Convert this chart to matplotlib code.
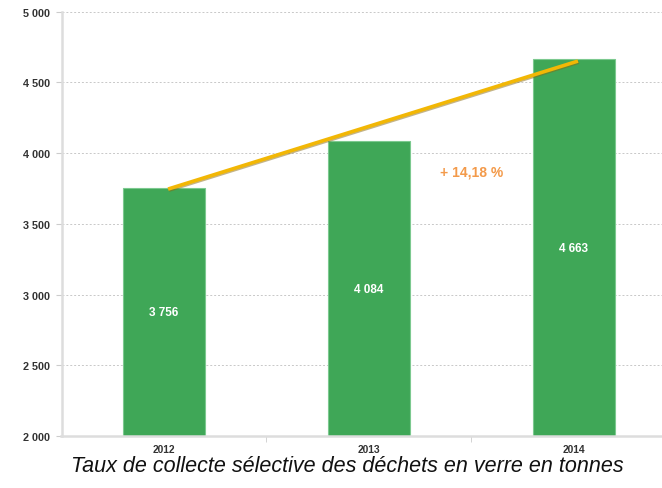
import matplotlib
matplotlib.use("Agg")
import matplotlib.pyplot as plt
import matplotlib.patheffects as pe
from matplotlib import font_manager

years = ["2012", "2013", "2014"]
tonnes = [3756, 4084, 4663]
trend_start = 3746
trend_end = 4651
growth_label = "+ 14,18 %"
yticks = [2000, 2500, 3000, 3500, 4000, 4500, 5000]
ytick_labels = ["2 000", "2 500", "3 000", "3 500", "4 000", "4 500", "5 000"]
caption = "Taux de collecte sélective des déchets en verre en tonnes"

plt.rcParams['font.family'] = ['Liberation Sans', 'DejaVu Sans']
names = {f.name for f in font_manager.fontManager.ttflist}
narrow = 'Liberation Sans Narrow' in names

fig = plt.figure(figsize=(6.62, 4.89), dpi=100)
ax = fig.add_axes([61.5/662, (489-437)/489, (662-61.5)/662, (437-12.7)/489])

x = list(range(len(years)))
ax.bar(x, tonnes, width=0.4, color="#3FA757", edgecolor="#7CC98F", linewidth=0.8, zorder=2)
for xi, v in zip(x, tonnes):
    ax.text(xi, (2000 + v) / 2, f"{v:,}".replace(",", " "), ha="center", va="center",
            color="white", fontsize=8.5, fontweight="bold", zorder=4)

ax.plot([0.02, 2.02], [trend_start, trend_end], color="#F2B705", linewidth=2.6,
        solid_capstyle="butt", zorder=3,
        path_effects=[pe.SimpleLineShadow(offset=(0.6, -0.8), shadow_color="#8a6a10", alpha=0.5),
                      pe.Normal()])

ax.text(1.5, 3873, growth_label, ha="center", va="center", color="#F39A4A",
        fontsize=10, fontweight="bold", zorder=4)

ax.set_ylim(2000, 5000)
ax.set_xlim(-0.5, 2.43)
ax.set_yticks(yticks)
ax.set_yticklabels(ytick_labels)
ax.set_xticks(x)
ax.set_xticklabels(years)
ax.set_xticks([0.5, 1.5], minor=True)
ax.tick_params(axis="x", which="major", length=0, pad=6, labelsize=7.4, colors="#333333")
ax.tick_params(axis="x", which="minor", length=4, color="#cccccc")
ax.tick_params(axis="y", length=4, color="#cccccc", pad=4, labelsize=7.8, labelcolor="#333333")
for lab in ax.get_xticklabels() + ax.get_yticklabels():
    lab.set_fontweight("bold")

ax.grid(axis="y", linestyle=(0, (2, 2)), color="#c8c8c8", linewidth=0.7, zorder=0)
ax.set_axisbelow(True)
for s in ["top", "right"]:
    ax.spines[s].set_visible(False)
ax.spines["left"].set_color("#dddddd")
ax.spines["left"].set_linewidth(1.8)
ax.spines["bottom"].set_color("#dddddd")
ax.spines["bottom"].set_linewidth(1.8)

if narrow:
    fig.text(347/662, 1 - 467/489, caption, ha="center", va="center", fontsize=18,
             style="italic", color="#111111", family=['Liberation Sans Narrow', 'DejaVu Sans'])
else:
    fig.text(347/662, 1 - 467/489, caption, ha="center", va="center", fontsize=15.5,
             style="italic", color="#111111")

fig.savefig("out.png", dpi=100)
